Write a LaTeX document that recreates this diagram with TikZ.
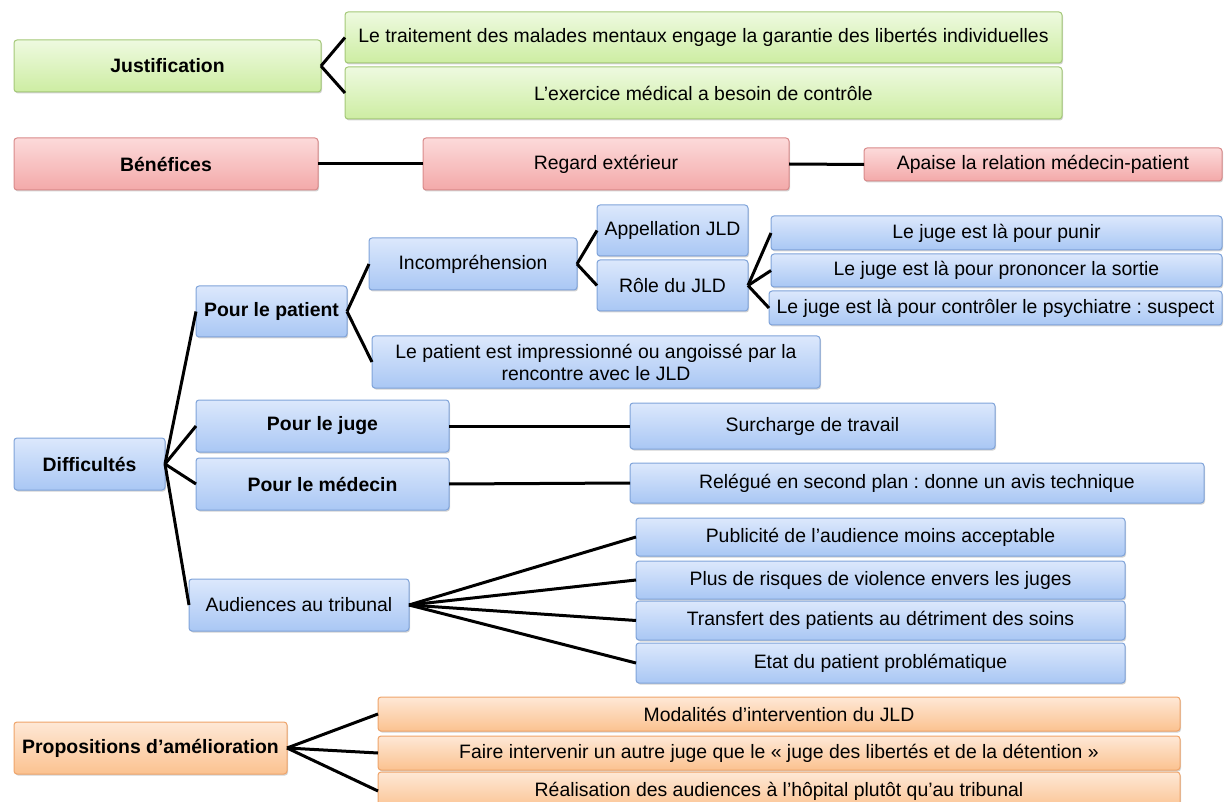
\documentclass[tikz,border=0pt]{standalone}
\usepackage{fontspec}
\setmainfont{Liberation Sans}
\usetikzlibrary{shadows}
\frenchspacing
\definecolor{gtop}{HTML}{EEFAE0}
\definecolor{gbot}{HTML}{CDEDA2}
\definecolor{gbrd}{HTML}{A4C878}
\definecolor{rtop}{HTML}{FCDADA}
\definecolor{rbot}{HTML}{F3A9A9}
\definecolor{rbrd}{HTML}{D98A8A}
\definecolor{btop}{HTML}{DCE8FC}
\definecolor{bbot}{HTML}{A9C7F4}
\definecolor{bbrd}{HTML}{7FA3D9}
\definecolor{otop}{HTML}{FEE8D6}
\definecolor{obot}{HTML}{FBC290}
\definecolor{obrd}{HTML}{EFA46A}
\tikzset{
  x=1pt,y=1pt,
  box/.style={rounded corners=3pt, line width=1pt, inner sep=0pt, outer sep=0pt,
    align=center, font=\fontsize{19.4}{22}\selectfont,
    drop shadow={opacity=0.35, shadow xshift=1pt, shadow yshift=-1.5pt}},
  gbox/.style={box, draw=gbrd, top color=gtop, bottom color=gbot},
  rbox/.style={box, draw=rbrd, top color=rtop, bottom color=rbot},
  bbox/.style={box, draw=bbrd, top color=btop, bottom color=bbot},
  obox/.style={box, draw=obrd, top color=otop, bottom color=obot},
  bold/.style={font=\fontsize{19.4}{22}\selectfont\bfseries},
  link/.style={line width=3pt, black},
}
\newcommand{\bx}[7]{% style, name, x1, y1, x2, y2, text
  \node[#1, minimum width={#5-#3}, minimum height={#6-#4}] (#2) at ({(#3+#5)/2},{-(#4+#6)/2}) {#7};}
\begin{document}
\begin{tikzpicture}
\useasboundingbox (0,0) rectangle (1224,-802);
% Justification
\bx{gbox,bold}{just}{14}{40}{321}{92}{Justification}
\bx{gbox}{j1}{345}{12}{1062}{63}{Le traitement des malades mentaux engage la garantie des libertés individuelles}
\bx{gbox}{j2}{345}{67}{1062}{119}{L’exercice médical a besoin de contrôle}
% Benefices
\bx{rbox,bold}{ben}{14}{138}{318}{190}{Bénéfices}
\bx{rbox}{reg}{423}{138}{789}{190}{Regard extérieur}
\bx{rbox}{apa}{864}{148}{1222}{181}{Apaise la relation médecin-patient}
% Difficultes
\bx{bbox,bold}{dif}{14}{438}{165}{490}{Difficultés}
\bx{bbox,bold}{pat}{196}{286}{347}{337}{Pour le patient}
\bx{bbox}{inc}{369}{238}{577}{290}{Incompréhension}
\bx{bbox}{app}{597}{205}{748}{256}{Appellation JLD}
\bx{bbox}{role}{597}{260}{748}{311}{Rôle du JLD}
\bx{bbox}{pun}{771}{216}{1222}{250}{Le juge est là pour punir}
\bx{bbox}{sor}{771}{254}{1222}{287}{Le juge est là pour prononcer la sortie}
\bx{bbox}{con}{769}{291}{1222}{325}{Le juge est là pour contrôler le psychiatre : suspect}
\bx{bbox}{imp}{372}{336}{820}{388}{Le patient est impressionné ou angoissé par la\\rencontre avec le JLD}
\bx{bbox,bold}{juge}{196}{400}{449}{452}{Pour le juge}
\bx{bbox,bold}{med}{196}{458}{449}{510}{Pour le médecin}
\bx{bbox}{sur}{630}{403}{995}{449}{Surcharge de travail}
\bx{bbox}{rel}{630}{463}{1204}{503}{Relégué en second plan : donne un avis technique}
\bx{bbox}{aud}{189}{579}{409}{631}{Audiences au tribunal}
\bx{bbox}{pub}{636}{518}{1125}{556}{Publicité de l’audience moins acceptable}
\bx{bbox}{ris}{636}{561}{1125}{599}{Plus de risques de violence envers les juges}
\bx{bbox}{tra}{636}{601}{1125}{640}{Transfert des patients au détriment des soins}
\bx{bbox}{eta}{636}{643}{1125}{683}{Etat du patient problématique}
% Propositions
\bx{obox,bold}{pro}{14}{722}{287}{774}{Propositions d’amélioration}
\bx{obox}{mod}{378}{697}{1180}{731}{Modalités d’intervention du JLD}
\bx{obox}{fai}{378}{736}{1180}{770}{Faire intervenir un autre juge que le « juge des libertés et de la détention »}
\bx{obox}{rea}{378}{772}{1180}{810}{Réalisation des audiences à l’hôpital plutôt qu’au tribunal}
% connectors
\draw[link] (just.east) -- (j1.west);
\draw[link] (just.east) -- (j2.west);
\draw[link] (ben.east) -- (reg.west);
\draw[link] (reg.east) -- (apa.west);
\draw[link] (dif.east) -- (pat.west);
\draw[link] (dif.east) -- (juge.west);
\draw[link] (dif.east) -- (med.west);
\draw[link] (dif.east) -- (aud.west);
\draw[link] (pat.east) -- (inc.west);
\draw[link] (pat.east) -- (imp.west);
\draw[link] (inc.east) -- (app.west);
\draw[link] (inc.east) -- (role.west);
\draw[link] (role.east) -- (pun.west);
\draw[link] (role.east) -- (sor.west);
\draw[link] (role.east) -- (con.west);
\draw[link] (juge.east) -- (sur.west);
\draw[link] (med.east) -- (rel.west);
\draw[link] (aud.east) -- (pub.west);
\draw[link] (aud.east) -- (ris.west);
\draw[link] (aud.east) -- (tra.west);
\draw[link] (aud.east) -- (eta.west);
\draw[link] (pro.east) -- (mod.west);
\draw[link] (pro.east) -- (fai.west);
\draw[link] (pro.east) -- (rea.west);
\end{tikzpicture}
\end{document}
